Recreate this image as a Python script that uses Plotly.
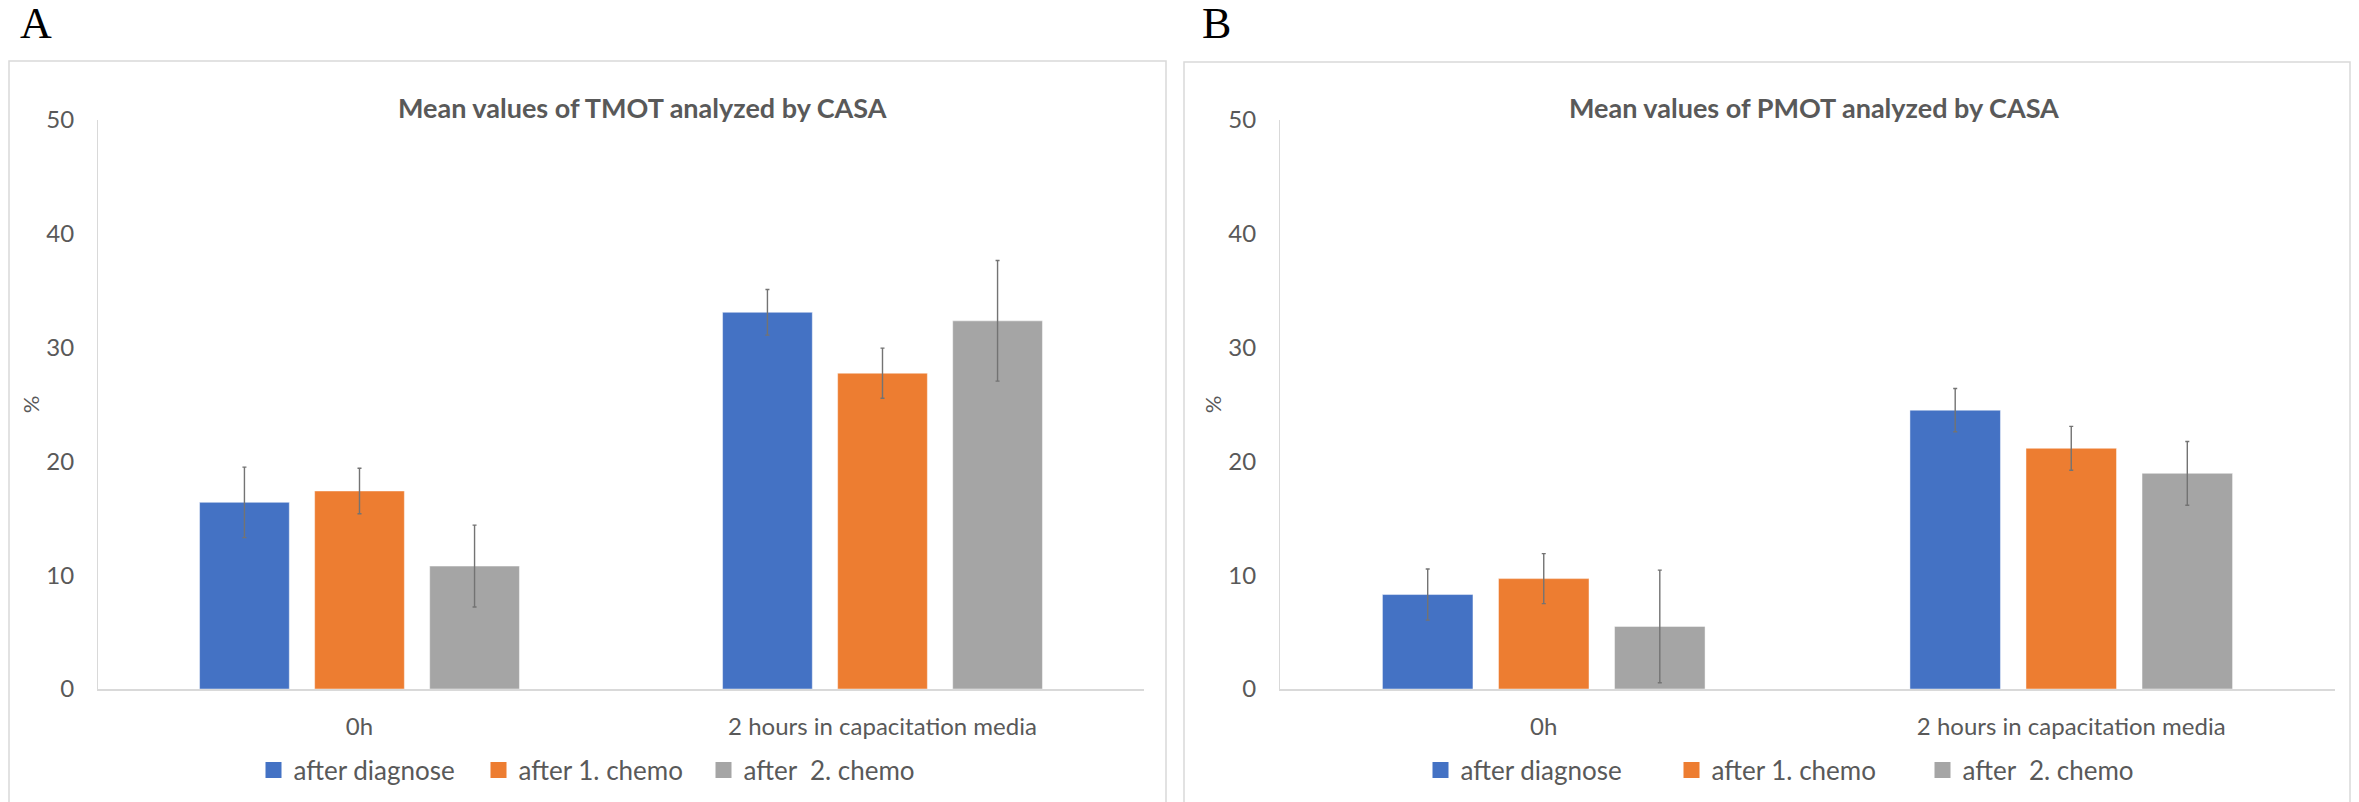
import plotly.graph_objects as go

W, H = 2359, 802
M_TOP, M_BOTTOM = 40, 40

# categories and series
categories = ["0h", "2 hours in capacitation media"]
series_names = ["after diagnose", "after 1. chemo", "after \u00a02. chemo"]
series_colors = ["#4472C4", "#ED7D31", "#A5A5A5"]

# TMOT (%) means and error half-widths
tmot_after_diagnose = [16.4, 33.1]
tmot_after_chemo1 = [17.4, 27.75]
tmot_after_chemo2 = [10.8, 32.35]
tmot_err_after_diagnose = [3.1, 2.0]
tmot_err_after_chemo1 = [2.0, 2.2]
tmot_err_after_chemo2 = [3.6, 5.3]

# PMOT (%) means and error half-widths
pmot_after_diagnose = [8.3, 24.5]
pmot_after_chemo1 = [9.7, 21.15]
pmot_after_chemo2 = [5.5, 18.95]
pmot_err_after_diagnose = [2.25, 1.9]
pmot_err_after_chemo1 = [2.2, 1.93]
pmot_err_after_chemo2 = [4.95, 2.8]

y_ticks = [0, 10, 20, 30, 40, 50]

TEXT = "#595959"
AXIS = "#d9d9d9"
FONT = "Lato, 'Open Sans', sans-serif"


def px(x):
    return x / W


def py(y):
    # pixel row -> paper fraction inside the top/bottom margins
    return (H - M_BOTTOM - y) / (H - M_TOP - M_BOTTOM)


fig = go.Figure()

panels = [
    ("x", "y", "legend",
     [tmot_after_diagnose, tmot_after_chemo1, tmot_after_chemo2],
     [tmot_err_after_diagnose, tmot_err_after_chemo1, tmot_err_after_chemo2]),
    ("x2", "y2", "legend2",
     [pmot_after_diagnose, pmot_after_chemo1, pmot_after_chemo2],
     [pmot_err_after_diagnose, pmot_err_after_chemo1, pmot_err_after_chemo2]),
]

for xa, ya, leg, means, errs in panels:
    for name, color, vals, err in zip(series_names, series_colors, means, errs):
        fig.add_trace(go.Bar(
            x=categories, y=vals, name=name, xaxis=xa, yaxis=ya,
            marker=dict(color=color, line=dict(width=1, color="rgba(255,255,255,0.45)")),
            error_y=dict(type="data", array=err, visible=True,
                         color="#737373", thickness=1.4, width=2),
            showlegend=False,
        ))
    # legend entries with larger square swatches
    for name, color in zip(series_names, series_colors):
        fig.add_trace(go.Scatter(
            x=[None], y=[None], name=name, xaxis=xa, yaxis=ya, mode="markers",
            marker=dict(symbol="square", size=16, color=color),
            legend=leg, showlegend=True,
        ))

y_dom = [py(689), py(120)]

common_x = dict(showline=True, linecolor=AXIS, linewidth=2, showgrid=False,
                zeroline=False, ticks="", tickfont=dict(size=24, color=TEXT, family=FONT),
                ticklabelstandoff=15, fixedrange=True)
common_y = dict(range=[0, 50], tickvals=y_ticks, showline=True, linecolor=AXIS,
                linewidth=1.2, showgrid=False, zeroline=False, ticks="",
                tickfont=dict(size=24, color=TEXT, family=FONT),
                ticklabelstandoff=18,
                title=dict(text="%", font=dict(size=22, color=TEXT, family=FONT), standoff=0))

legend_common = dict(orientation="h", xanchor="center", yanchor="middle",
                     font=dict(size=26, color=TEXT, family=FONT),
                     bgcolor="rgba(0,0,0,0)", entrywidthmode="pixels")

fig.update_layout(
    width=W, height=H,
    margin=dict(l=0, r=0, t=M_TOP, b=M_BOTTOM),
    paper_bgcolor="white", plot_bgcolor="white",
    barmode="group", bargap=0.34, bargroupgap=0.22,
    font=dict(family=FONT, color=TEXT),
    xaxis=dict(domain=[px(98), px(1144)], anchor="y", **common_x),
    yaxis=dict(domain=y_dom, anchor="x", **common_y),
    xaxis2=dict(domain=[px(1280), px(2335)], anchor="y2", **common_x),
    yaxis2=dict(domain=y_dom, anchor="x2", **common_y),
    legend=dict(x=px(591), y=py(770), entrywidth=180, **legend_common),
    legend2=dict(x=px(1797), y=py(770), entrywidth=206, **legend_common),
    shapes=[
        dict(type="rect", xref="paper", yref="paper", x0=px(9), x1=px(1166),
             y0=py(830), y1=py(61), line=dict(color=AXIS, width=1.5), layer="below"),
        dict(type="rect", xref="paper", yref="paper", x0=px(1184), x1=px(2350),
             y0=py(830), y1=py(62), line=dict(color=AXIS, width=1.5), layer="below"),
    ],
    annotations=[
        dict(text="<b>Mean values of TMOT analyzed by CASA</b>", x=px(643), y=py(107),
             xref="paper", yref="paper", xanchor="center", yanchor="middle", showarrow=False,
             font=dict(size=27, color=TEXT, family=FONT)),
        dict(text="<b>Mean values of PMOT analyzed by CASA</b>", x=px(1814), y=py(107),
             xref="paper", yref="paper", xanchor="center", yanchor="middle", showarrow=False,
             font=dict(size=27, color=TEXT, family=FONT)),
        dict(text="A", x=px(18), y=py(24), xref="paper", yref="paper", xanchor="left",
             yanchor="middle", showarrow=False,
             font=dict(size=44, color="black", family="Liberation Serif, serif")),
        dict(text="B", x=px(1200), y=py(24), xref="paper", yref="paper", xanchor="left",
             yanchor="middle", showarrow=False,
             font=dict(size=44, color="black", family="Liberation Serif, serif")),
    ],
)

fig.write_html("out.html")
